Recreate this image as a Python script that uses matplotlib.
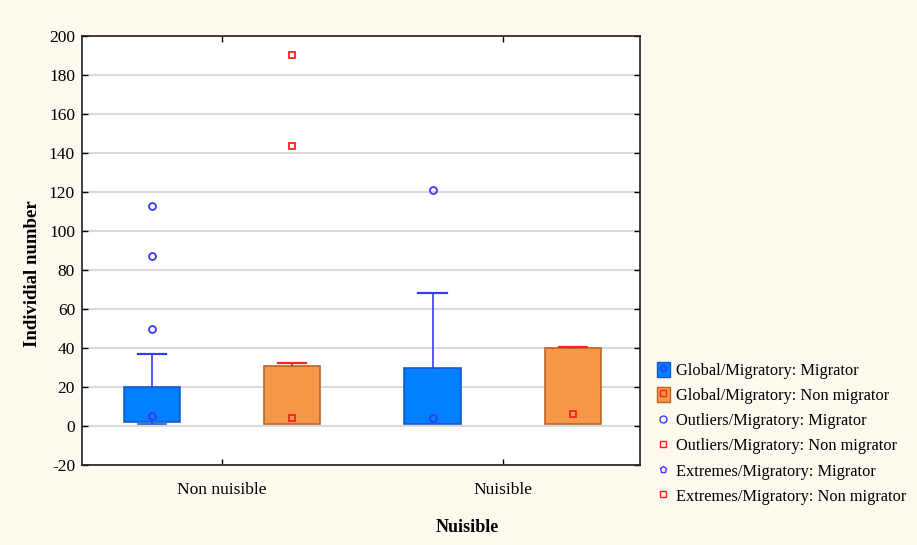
import matplotlib.pyplot as plt
from matplotlib.lines import Line2D
from matplotlib.patches import Patch
from matplotlib.legend_handler import HandlerTuple

plt.rcParams['font.family'] = 'Liberation Serif'
plt.rcParams['axes.unicode_minus'] = False

groups = ['Non nuisible', 'Nuisible']

# Migrator: box 25-75 %, median, non-outlier range
mig_q1 = [2, 1]
mig_q3 = [20, 30]
mig_med = [5, 4]
mig_lo = [1, 1]
mig_hi = [37, 68]
mig_outliers = [[50], []]
mig_extremes = [[87, 113], [121]]

# Non migrator
non_q1 = [1, 1]
non_q3 = [31, 40]
non_med = [4, 6]
non_lo = [1, 1]
non_hi = [32.5, 40.5]
non_outliers = [[], []]
non_extremes = [[143.5, 190.5], []]

BLUE_FILL, BLUE_EDGE, BLUE_LINE = '#0080FF', '#1A5AC8', '#3838FF'
ORANGE_FILL, ORANGE_EDGE, RED_LINE = '#F59847', '#C0642A', '#FF2020'

fig = plt.figure(figsize=(9.17, 5.45), dpi=100, facecolor='#FDF9EE')
ax = fig.add_axes([82 / 917, 80 / 545, 558 / 917, 429 / 545])
ax.set_facecolor('white')

offset = 0.25
box_w = 0.2


def draw_series(q1, q3, med, lo, hi, outl, extr, sign, fill, edge, line, mk_med, mk_out, mk_ext):
    stats = []
    for i in range(len(groups)):
        stats.append(dict(q1=q1[i], q3=q3[i], med=med[i], mean=med[i],
                          whislo=lo[i], whishi=hi[i], fliers=[]))
    pos = [i + sign * offset for i in range(len(groups))]
    art = ax.bxp(stats, positions=pos, widths=box_w, capwidths=0.1, patch_artist=True,
                 showmeans=True, showfliers=False,
                 boxprops=dict(facecolor=fill, edgecolor=edge, linewidth=1.2),
                 whiskerprops=dict(color=line, linewidth=1.2),
                 capprops=dict(color=line, linewidth=1.6),
                 medianprops=dict(linewidth=0),
                 meanprops=dict(marker=mk_med, markerfacecolor='none', markeredgecolor=line,
                                markersize=5, markeredgewidth=1.3, linestyle='none'),
                 zorder=3)
    # lower caps close to the box edge take the edge colour, or vanish
    for i in range(len(groups)):
        if q1[i] - lo[i] < 1.5:
            art['caps'][2 * i].set_color(edge)
            art['caps'][2 * i].set_linewidth(1.2)
        if lo[i] >= q1[i]:
            art['caps'][2 * i].set_visible(False)
    for i in range(len(groups)):
        if outl[i]:
            ax.plot([pos[i]] * len(outl[i]), outl[i], linestyle='none', marker=mk_out,
                    markerfacecolor='none', markeredgecolor=line, markersize=5,
                    markeredgewidth=1.3, zorder=4)
        if extr[i]:
            ax.plot([pos[i]] * len(extr[i]), extr[i], linestyle='none', marker=mk_ext,
                    markerfacecolor='none', markeredgecolor=line, markersize=5,
                    markeredgewidth=1.3, zorder=4)


draw_series(mig_q1, mig_q3, mig_med, mig_lo, mig_hi, mig_outliers, mig_extremes,
            -1, BLUE_FILL, BLUE_EDGE, BLUE_LINE, 'o', 'o', 'o')
draw_series(non_q1, non_q3, non_med, non_lo, non_hi, non_outliers, non_extremes,
            1, ORANGE_FILL, ORANGE_EDGE, RED_LINE, 's', 's', 's')

ax.set_xlim(-0.5, 1.49)
ax.set_ylim(-20, 200)
ax.set_yticks(range(-20, 201, 20))
ax.set_xticks(range(len(groups)))
ax.set_xticklabels(groups)
ax.yaxis.grid(True, color='#DADADA', linewidth=1.5)
ax.set_axisbelow(True)
ax.tick_params(direction='in', top=True, right=True, length=4, width=1,
               labelsize=12.5, colors='black')
ax.tick_params(axis='x', pad=12)
ax.tick_params(axis='y', pad=5)
for s in ax.spines.values():
    s.set_linewidth(1.2)
    s.set_color('#202020')

ax.set_ylabel('Individial number', fontsize=13.5, fontweight='bold')
ax.yaxis.set_label_coords(-0.073, 0.445)
ax.set_xlabel('Nuisible', fontsize=13, fontweight='bold')
ax.xaxis.set_label_coords(0.69, -0.126)

handles = [
    (Patch(facecolor=BLUE_FILL, edgecolor=BLUE_EDGE),
     Line2D([], [], marker='o', color=BLUE_LINE, markerfacecolor='none', markersize=4, linestyle='none')),
    (Patch(facecolor=ORANGE_FILL, edgecolor=ORANGE_EDGE),
     Line2D([], [], marker='s', color=RED_LINE, markerfacecolor='none', markersize=4, linestyle='none')),
    Line2D([], [], marker='o', color=BLUE_LINE, markerfacecolor='none', markersize=5, linestyle='none'),
    Line2D([], [], marker='s', color=RED_LINE, markerfacecolor='none', markersize=5, linestyle='none'),
    Line2D([], [], marker='p', color=BLUE_LINE, markerfacecolor='none', markersize=5, linestyle='none'),
    Line2D([], [], marker='s', color=RED_LINE, markerfacecolor='none', markersize=5, linestyle='none'),
]
labels = ['Global/Migratory: Migrator', 'Global/Migratory: Non migrator',
          'Outliers/Migratory: Migrator', 'Outliers/Migratory: Non migrator',
          'Extremes/Migratory: Migrator', 'Extremes/Migratory: Non migrator']
fig.legend(handles, labels, loc='upper left', bbox_to_anchor=(650 / 917, 1 - 355 / 545),
           frameon=False, fontsize=11.8, handlelength=0.8, handleheight=1.1,
           handletextpad=0.4, labelspacing=0.47, borderaxespad=0,
           handler_map={tuple: HandlerTuple(ndivide=1, pad=0)})

fig.savefig('out.png', dpi=100, facecolor=fig.get_facecolor())
